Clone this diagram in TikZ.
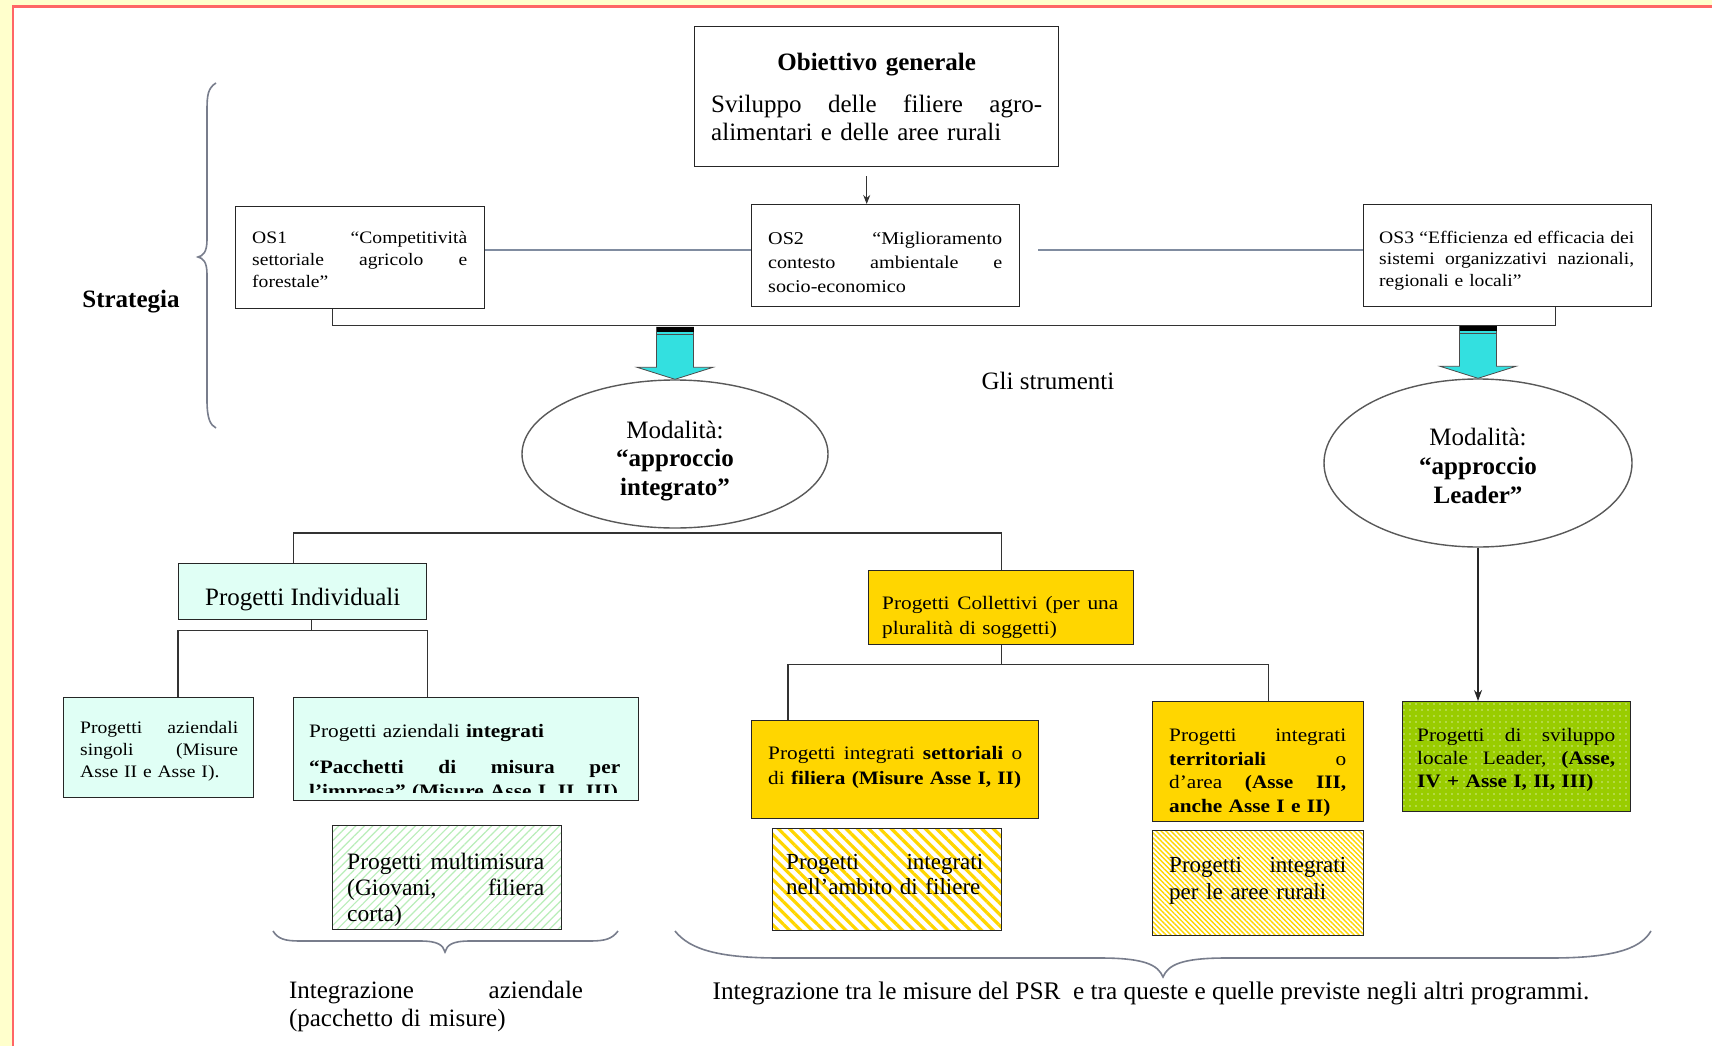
\documentclass[tikz,border=0pt]{standalone}
\usepackage{fontspec}
\setmainfont{Liberation Serif}
\newfontfamily\boxfont[FakeStretch=1.12]{Liberation Serif}
\usetikzlibrary{shapes.geometric,patterns.meta,arrows.meta,calc}
\definecolor{bgyel}{RGB}{255,255,204}
\definecolor{frred}{RGB}{255,102,102}
\definecolor{mint}{RGB}{224,255,245}
\definecolor{gold}{RGB}{255,214,0}
\definecolor{leafg}{RGB}{153,204,0}
\definecolor{cyanA}{RGB}{51,224,224}
\definecolor{glcol}{RGB}{128,140,160}
\definecolor{brcol}{RGB}{120,125,140}
\definecolor{pgreen}{RGB}{185,238,185}
\newcommand{\jl}[2]{\makebox[#1pt][l]{#2}}
\newcommand{\cyanarrow}[1]{%
  \filldraw[fill=cyanA, draw=black!70, line width=0.8pt] (#1.north) -- ++(-38,-12) -- ++(19.5,0) -- ++(0,-40) -- ++(37,0) -- ++(0,40) -- ++(19.5,0) -- cycle;
  \fill[black] ($(#1.north)+(-18.5,-52)$) rectangle ++(37,5);
  \draw[black!70, line width=1pt] ($(#1.north)+(-18.5,-44.5)$) -- ++(37,0);
}
\tikzset{
  bx/.style={draw=black!85, line width=1.4pt, inner sep=0pt, anchor=north west, align=left},
  txt/.style={anchor=base west, inner sep=0pt, align=left},
  tree/.style={draw=black!80, line width=1.4pt},
  glink/.style={draw=glcol, line width=2pt},
  bracestyle/.style={draw=brcol, line width=1.6pt},
  ell/.style={ellipse, draw=black!65, line width=1.4pt, inner sep=0pt},
  tbig/.style={font=\fontsize{25}{28}\selectfont},
  mmfill/.style={preaction={fill=white}, pattern={Lines[angle=45,distance=6pt,line width=1.2pt]}, pattern color=pgreen},
  nafill/.style={preaction={fill=white}, pattern={Lines[angle=-45,distance=8pt,line width=3.2pt]}, pattern color=gold},
  arfill/.style={preaction={fill=white}, pattern={Lines[angle=-45,distance=3.5pt,line width=1.4pt]}, pattern color=gold},
  ldfill/.style={preaction={fill=leafg}, pattern={Dots[distance=6pt,radius=0.8pt]}, pattern color=white!55!leafg},
}
\begin{document}
\begin{tikzpicture}[x=1pt,y=-1pt]
\useasboundingbox (0,0) rectangle (1712,1046);
\fill[bgyel] (0,0) rectangle (1712,1046);
\fill[white] (14,8) rectangle (1712,1046);
\draw[frred, line width=2.5pt] (13,1046) -- (13,6.5) -- (1712,6.5);

% top
\node[bx, tbig, minimum width=364, minimum height=140, text width=331] (OG) at (694,26)
  {\makebox[331pt][c]{\bfseries Obiettivo generale}\\[14pt]\jl{331}{Sviluppo\hfill delle\hfill filiere\hfill agro-}\\\mbox{alimentari e delle aree rurali}};

\node[bx, minimum width=249, minimum height=102] (OS1) at (235,206) {};
\node[txt, text width=215, font=\boxfont\fontsize{17.5}{21.8}\selectfont] (OS1t) at ($(OS1.north west)+(17,37.5)$)
  {\jl{215}{OS1\hfill “Competitività}\\\jl{215}{settoriale\hfill agricolo\hfill e}\\\mbox{forestale”}};
\node[bx, minimum width=268, minimum height=102] (OS2) at (751,204) {};
\node[txt, text width=234, font=\boxfont\fontsize{18}{24}\selectfont] (OS2t) at ($(OS2.north west)+(17,40.5)$)
  {\jl{234}{OS2\hfill “Miglioramento}\\\jl{234}{contesto\hfill ambientale\hfill e}\\\mbox{socio-economico}};
\node[bx, minimum width=288, minimum height=102] (OS3) at (1363,204) {};
\node[txt, text width=255, font=\boxfont\fontsize{17.5}{21.3}\selectfont] (OS3t) at ($(OS3.north west)+(16,39.5)$)
  {\jl{255}{OS3\hfill “Efficienza\hfill ed\hfill efficacia\hfill dei}\\\jl{255}{sistemi\hfill organizzativi\hfill nazionali,}\\\mbox{regionali e locali”}};

\draw[-{Stealth[length=9pt,width=7pt]}, line width=1pt, black!80] ([xshift=-10pt,yshift=-9pt]OG.south) -- ([xshift=-19pt]OS2.north);
\coordinate (gl) at ([yshift=6pt]OS2.west);
\draw[glink] (gl -| OS1.east) -- (gl);
\draw[glink] ($(gl -| OS2.east)+(18,0)$) -- (gl -| OS3.west);
\draw[tree] ([xshift=-28pt]OS1.south) -- ++(0,16) -| ([xshift=48pt]OS3.south);

% strategia
\node[font=\fontsize{25}{28}\selectfont\bfseries] (strat) at (131,302) {Strategia};
\draw[bracestyle] (216,83) .. controls (208,88) and (207,95) .. (207,110) -- (207,240)
  .. controls (207,252) and (203,256) .. (198,257) .. controls (203,258) and (207,262) .. (207,274)
  -- (207,400) .. controls (207,418) and (210,425) .. (216,428);

% ellipses
\node[ell, minimum width=306, minimum height=148] (E1) at (675,454) {};
\node[anchor=base, inner sep=0pt, text width=220, align=center, font=\fontsize{25}{28.4}\selectfont] (E1t) at ($(E1.north)+(0,59)$)
  {Modalità:\\\textbf{“approccio}\\\textbf{integrato”}};
\node[ell, minimum width=308, minimum height=168] (E2) at (1478,463) {};
\node[anchor=base, inner sep=0pt, text width=220, align=center, font=\fontsize{25}{29}\selectfont] (E2t) at ($(E2.north)+(0,67)$)
  {Modalità:\\\textbf{“approccio}\\\textbf{Leader”}};
\cyanarrow{E1}
\cyanarrow{E2}
\node[tbig] (gli) at (1048,381) {Gli strumenti};

% individual projects
\node[bx, fill=mint, minimum width=248, minimum height=56] (PI) at (178,563) {};
\node[anchor=base, inner sep=0pt, tbig] (PIt) at ($(PI.north)+(0,42.5)$) {Progetti Individuali};
\node[bx, fill=mint, minimum width=190, minimum height=100] (PAS) at (63,697) {};
\node[txt, text width=158, font=\boxfont\fontsize{17.5}{21.8}\selectfont] (PASt) at ($(PAS.north west)+(17,36.5)$)
  {\jl{158}{Progetti\hfill aziendali}\\\jl{158}{singoli\hfill (Misure}\\\mbox{Asse II e Asse I).}};
\node[bx, fill=mint, minimum width=345, minimum height=103] (PAI) at (293,697) {};
\begin{scope}
  \clip ($(PAI.north west)+(2,2)$) rectangle ($(PAI.south east)+(-2,-9)$);
  \node[anchor=north west, text width=311, align=left, inner sep=0pt, font=\boxfont\fontsize{19}{24}\selectfont] (PAIt) at ($(PAI.north west)+(16,27)$)
    {Progetti aziendali \textbf{integrati}\\[12pt]\textbf{\jl{311}{“Pacchetti\hfill di\hfill misura\hfill per}}\\\textbf{\mbox{l’impresa” (Misure Asse I, II, III)}}};
\end{scope}
\node[bx, mmfill, minimum width=229, minimum height=104] (MM) at (332,825) {};
\node[txt, text width=197, font=\fontsize{23.5}{26.2}\selectfont] (MMt) at ($(MM.north west)+(15,44.5)$)
  {\jl{197}{Progetti\hfill multimisura}\\\jl{197}{(Giovani,\hfill filiera}\\\mbox{corta)}};

% collective projects
\node[bx, fill=gold, minimum width=265, minimum height=74] (PC) at (868,570) {};
\node[txt, text width=236, font=\boxfont\fontsize{19}{25}\selectfont] (PCt) at ($(PC.north west)+(14,39.5)$)
  {\jl{236}{Progetti\hfill Collettivi\hfill (per\hfill una}\\\mbox{pluralità di soggetti)}};
\node[bx, fill=gold, minimum width=287, minimum height=98] (PIS) at (751,720) {};
\node[txt, text width=254, font=\boxfont\fontsize{19}{25}\selectfont] (PISt) at ($(PIS.north west)+(17,39)$)
  {\jl{254}{Progetti\hfill integrati\hfill \textbf{settoriali}\hfill o}\\\mbox{di \textbf{filiera (Misure Asse I, II)}}};
\node[bx, fill=gold, minimum width=211, minimum height=120] (PIT) at (1152,701) {};
\node[txt, text width=177, font=\boxfont\fontsize{19}{23.6}\selectfont] (PITt) at ($(PIT.north west)+(17,40.5)$)
  {\jl{177}{Progetti\hfill integrati}\\\jl{177}{\textbf{territoriali}\hfill o}\\\jl{177}{d’area\hfill \textbf{(Asse\hfill III,}}\\\mbox{\textbf{anche Asse I e II)}}};
\node[bx, nafill, minimum width=229, minimum height=102] (NA) at (771,827) {};
\node[txt, text width=197, font=\fontsize{23}{25}\selectfont] (NAt) at ($(NA.north west)+(15,42.5)$)
  {\jl{197}{Progetti\hfill integrati}\\\mbox{nell’ambito di filiere}};
\node[bx, arfill, minimum width=211, minimum height=105] (AR) at (1152,830) {};
\node[txt, text width=177, font=\fontsize{23}{27}\selectfont] (ARt) at ($(AR.north west)+(17,42.5)$)
  {\jl{177}{Progetti\hfill integrati}\\\mbox{per le aree rurali}};
\node[bx, ldfill, minimum width=228, minimum height=110] (LD) at (1402,701) {};
\node[txt, text width=198, font=\boxfont\fontsize{19}{23}\selectfont] (LDt) at ($(LD.north west)+(15,40.5)$)
  {\jl{198}{Progetti\hfill di\hfill sviluppo}\\\jl{198}{locale\hfill Leader,\hfill \textbf{(Asse,}}\\\mbox{\textbf{IV + Asse I, II, III)}}};

% tree connectors
\draw[tree] ([xshift=-9pt]PI.north) -- ++(0,-30) -| (PC.north);
\coordinate (pib) at ($(PI.south)+(9,10)$);
\draw[tree] ([xshift=9pt]PI.south) -- (pib);
\draw[tree] (PAS.north -| PI.west) |- (pib) -| (PAI.north -| PI.east);
\coordinate (pcb) at ($(PC.south)+(0,19)$);
\draw[tree] (PC.south) -- (pcb);
\draw[tree] ($(PIS.north west)+(37,0)$) |- (pcb) -| ([xshift=10pt]PIT.north);
\draw[-{Stealth[length=11pt,width=8pt]}, line width=1.2pt, black!85] (E2.south) -- (E2.south |- LD.north);

% bottom braces and labels
\draw[bracestyle] (273,931) .. controls (278,939) and (285,941) .. (300,941) -- (420,941)
  .. controls (438,941) and (443,945) .. (445,952) .. controls (447,945) and (452,941) .. (470,941)
  -- (590,941) .. controls (605,941) and (612,939) .. (618,931);
\draw[bracestyle] (675,931) .. controls (690,950) and (720,958) .. (780,958) -- (1100,958)
  .. controls (1145,958) and (1158,965) .. (1163,977) .. controls (1168,965) and (1181,958) .. (1226,958)
  -- (1550,958) .. controls (1610,958) and (1640,950) .. (1651,931);
\node[tbig, text width=294, align=left, inner sep=0pt] (IA) at (436,1006)
  {\jl{294}{Integrazione\hfill aziendale}\\\mbox{(pacchetto di misure)}};
\node[font=\fontsize{25.3}{28}\selectfont, inner sep=0pt] (IPSR) at (1151,993)
  {Integrazione tra le misure del PSR\ \ e tra queste e quelle previste negli altri programmi.};
\end{tikzpicture}
\end{document}
